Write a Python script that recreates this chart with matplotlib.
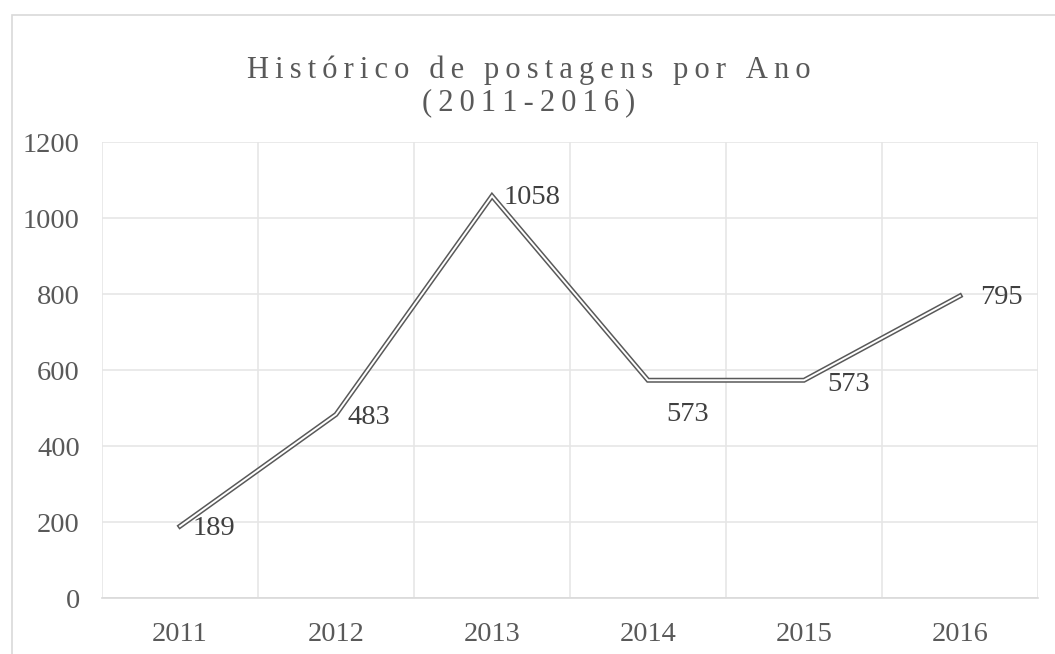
import matplotlib.pyplot as plt
from matplotlib.patches import Rectangle

anos = ['2011', '2012', '2013', '2014', '2015', '2016']
postagens = [189, 483, 1058, 573, 573, 795]
# label offsets in pixels (dx, dy) and horizontal alignment
label_pos = [(13, -2, 'left'), (12, -3, 'left'), (12, -2, 'left'),
             (40, -34, 'center'), (23, -4, 'left'), (20, -2, 'left')]

plt.rcParams['font.family'] = ['Liberation Serif', 'DejaVu Serif']
cinza = '#595959'

fig = plt.figure(figsize=(10.55, 6.54), dpi=100)
fig.patches.append(Rectangle((12 / 1055, -0.1), 1.2, 1 - 15 / 654 + 0.1,
                             transform=fig.transFigure, fill=False,
                             edgecolor='#d9d9d9', lw=1.2))

ax = fig.add_axes([102 / 1055, 1 - 598 / 654, 936 / 1055, 456 / 654])
x = list(range(len(anos)))

# double line look: thick dark line with thin white line inside
ax.plot(x, postagens, color=cinza, lw=3.6, solid_joinstyle='miter', zorder=3)
ax.plot(x, postagens, color='white', lw=1.4, solid_joinstyle='miter', zorder=4)

for i, v in enumerate(postagens):
    dx, dy, ha = label_pos[i]
    ax.annotate(str(v), (i, v), xytext=(dx, dy), textcoords='offset pixels',
                ha=ha, va='center', fontsize=20.5, color='#404040')

ax.set_xlim(-0.5, 5.5)
ax.set_ylim(0, 1200)
ax.set_yticks(range(0, 1201, 200))
ax.set_xticks(x)
ax.set_xticklabels(anos)
ax.set_xticks([i + 0.5 for i in range(-1, 6)], minor=True)
ax.grid(True, which='major', axis='y', color='#e6e6e6', lw=1.2)
ax.grid(True, which='minor', axis='x', color='#e6e6e6', lw=1.2)
ax.set_axisbelow(True)
ax.tick_params(which='both', length=0)
ax.tick_params(axis='y', pad=16, labelsize=20.5, labelcolor=cinza)
ax.tick_params(axis='x', pad=17, labelsize=20.5, labelcolor=cinza)
for s in ['top', 'right', 'left']:
    ax.spines[s].set_visible(False)
ax.spines['bottom'].set_color('#d9d9d9')
ax.spines['bottom'].set_linewidth(1.2)

spaced = lambda s: '\u2009'.join(s)
fig.text(529 / 1055, 1 - 70 / 654, spaced('Histórico de postagens por Ano'),
         ha='center', va='center', fontsize=22, color=cinza)
fig.text(529 / 1055, 1 - 103 / 654, spaced('(2011-2016)'),
         ha='center', va='center', fontsize=22, color=cinza)

fig.savefig('out.png', dpi=100)
